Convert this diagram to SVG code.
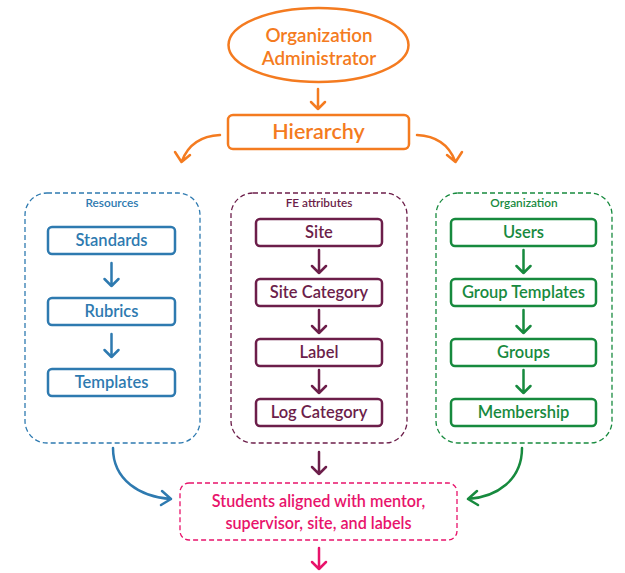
<svg xmlns="http://www.w3.org/2000/svg" width="625" height="573" viewBox="0 0 625 573">
<style>
text{font-family:Lato,"Open Sans","Liberation Sans",sans-serif;font-weight:600;text-anchor:middle}
.o{stroke:#F47B20;fill:none;stroke-width:2.5}
.b{stroke:#2E7AB0;fill:none;stroke-width:2.5}
.m{stroke:#6C1E4A;fill:none;stroke-width:2.5}
.g{stroke:#178A3E;fill:none;stroke-width:2.5}
.p{stroke:#E8136B;fill:none;stroke-width:2.5}
.grp{fill:none;stroke-width:1.3;stroke-dasharray:5 3}
.ln{fill:none;stroke-width:2.5;stroke-linecap:round;stroke-linejoin:round}
.to{fill:#F47B20}.tb{fill:#2E7AB0}.tm{fill:#6C1E4A}.tg{fill:#178A3E}.tp{fill:#E8136B}
.s15{font-size:16.5px}.s10{font-size:11.8px}
</style>
<rect width="625" height="573" fill="#fff"/>
<g id="admin">
<ellipse class="o" cx="318.5" cy="45" rx="90" ry="37"/>
<text class="to" x="319" y="41.5" font-size="18.8">Organization</text>
<text class="to" x="319" y="65" font-size="18.8">Administrator</text>
</g>
<g id="hierarchy">
<rect class="o" x="228" y="115" width="181" height="34" rx="5"/>
<text class="to" x="318.5" y="139" font-size="21.5">Hierarchy</text>
</g>
<g id="resources">
<rect class="grp" stroke="#2E7AB0" x="25" y="193" width="175" height="250" rx="22"/>
<text class="tb s10" x="112" y="207">Resources</text>
</g>
<g id="standards"><rect class="b" x="48" y="227" width="127" height="27" rx="4"/><text class="tb s15" x="111.5" y="246">Standards</text></g>
<g id="rubrics"><rect class="b" x="48" y="298" width="127" height="27" rx="4"/><text class="tb s15" x="111.5" y="317">Rubrics</text></g>
<g id="templates"><rect class="b" x="48" y="369" width="127" height="27" rx="4"/><text class="tb s15" x="111.5" y="388">Templates</text></g>
<g id="fe">
<rect class="grp" stroke="#6C1E4A" x="231" y="193" width="176" height="250" rx="22"/>
<text class="tm s10" x="319" y="207">FE attributes</text>
</g>
<g id="site"><rect class="m" x="256" y="219" width="126" height="27" rx="4"/><text class="tm s15" x="319" y="238">Site</text></g>
<g id="sitecat"><rect class="m" x="256" y="279" width="126" height="27" rx="4"/><text class="tm s15" x="319" y="298">Site Category</text></g>
<g id="label"><rect class="m" x="256" y="339" width="126" height="27" rx="4"/><text class="tm s15" x="319" y="358">Label</text></g>
<g id="logcat"><rect class="m" x="256" y="399" width="126" height="27" rx="4"/><text class="tm s15" x="319" y="418">Log Category</text></g>
<g id="organization">
<rect class="grp" stroke="#178A3E" x="436" y="193" width="176" height="250" rx="22"/>
<text class="tg s10" x="524" y="207">Organization</text>
</g>
<g id="users"><rect class="g" x="451" y="219" width="145" height="27" rx="4"/><text class="tg s15" x="523.5" y="238">Users</text></g>
<g id="grouptemplates"><rect class="g" x="451" y="279" width="145" height="27" rx="4"/><text class="tg s15" x="523.5" y="298">Group Templates</text></g>
<g id="groups"><rect class="g" x="451" y="339" width="145" height="27" rx="4"/><text class="tg s15" x="523.5" y="358">Groups</text></g>
<g id="membership"><rect class="g" x="451" y="399" width="145" height="27" rx="4"/><text class="tg s15" x="523.5" y="418">Membership</text></g>
<g id="students">
<rect class="grp" stroke="#E8136B" x="180" y="483" width="277" height="57" rx="9"/>
<text class="tp" x="318.5" y="506.5" font-size="16.2">Students aligned with mentor,</text>
<text class="tp" x="318.5" y="529" font-size="16.2">supervisor, site, and labels</text>
</g>
<g id="connectors" class="ln">
<g stroke="#F47B20">
<path d="M318 89V109M311 102L318 109L325 102"/>
<path d="M220 135C200 136 188 145 182 161M175 152L181.5 162L190 155"/>
<path d="M417 135C437 136 449 145 455 161M462 152L455.5 162L447 155"/>
</g>
<g stroke="#2E7AB0">
<path d="M111.5 263V286M104.5 279L111.5 286L118.5 279"/>
<path d="M111.5 334V357M104.5 350L111.5 357L118.5 350"/>
<path d="M113 448C113 480 140 497 171 499M162 491L171 499L161 505"/>
</g>
<g stroke="#6C1E4A">
<path d="M319 250V273M312 266L319 273L326 266"/>
<path d="M319 310V333M312 326L319 333L326 326"/>
<path d="M319 370V393M312 386L319 393L326 386"/>
<path d="M319 452V474M312 467L319 474L326 467"/>
</g>
<g stroke="#178A3E">
<path d="M523.5 250V273M516.5 266L523.5 273L530.5 266"/>
<path d="M523.5 310V333M516.5 326L523.5 333L530.5 326"/>
<path d="M523.5 370V393M516.5 386L523.5 393L530.5 386"/>
<path d="M522 448C522 480 497 497 468 499M477 491L468 499L478 505"/>
</g>
<g stroke="#E8136B">
<path d="M319 548V569M312 562L319 569L326 562"/>
</g>
</g>
</svg>
